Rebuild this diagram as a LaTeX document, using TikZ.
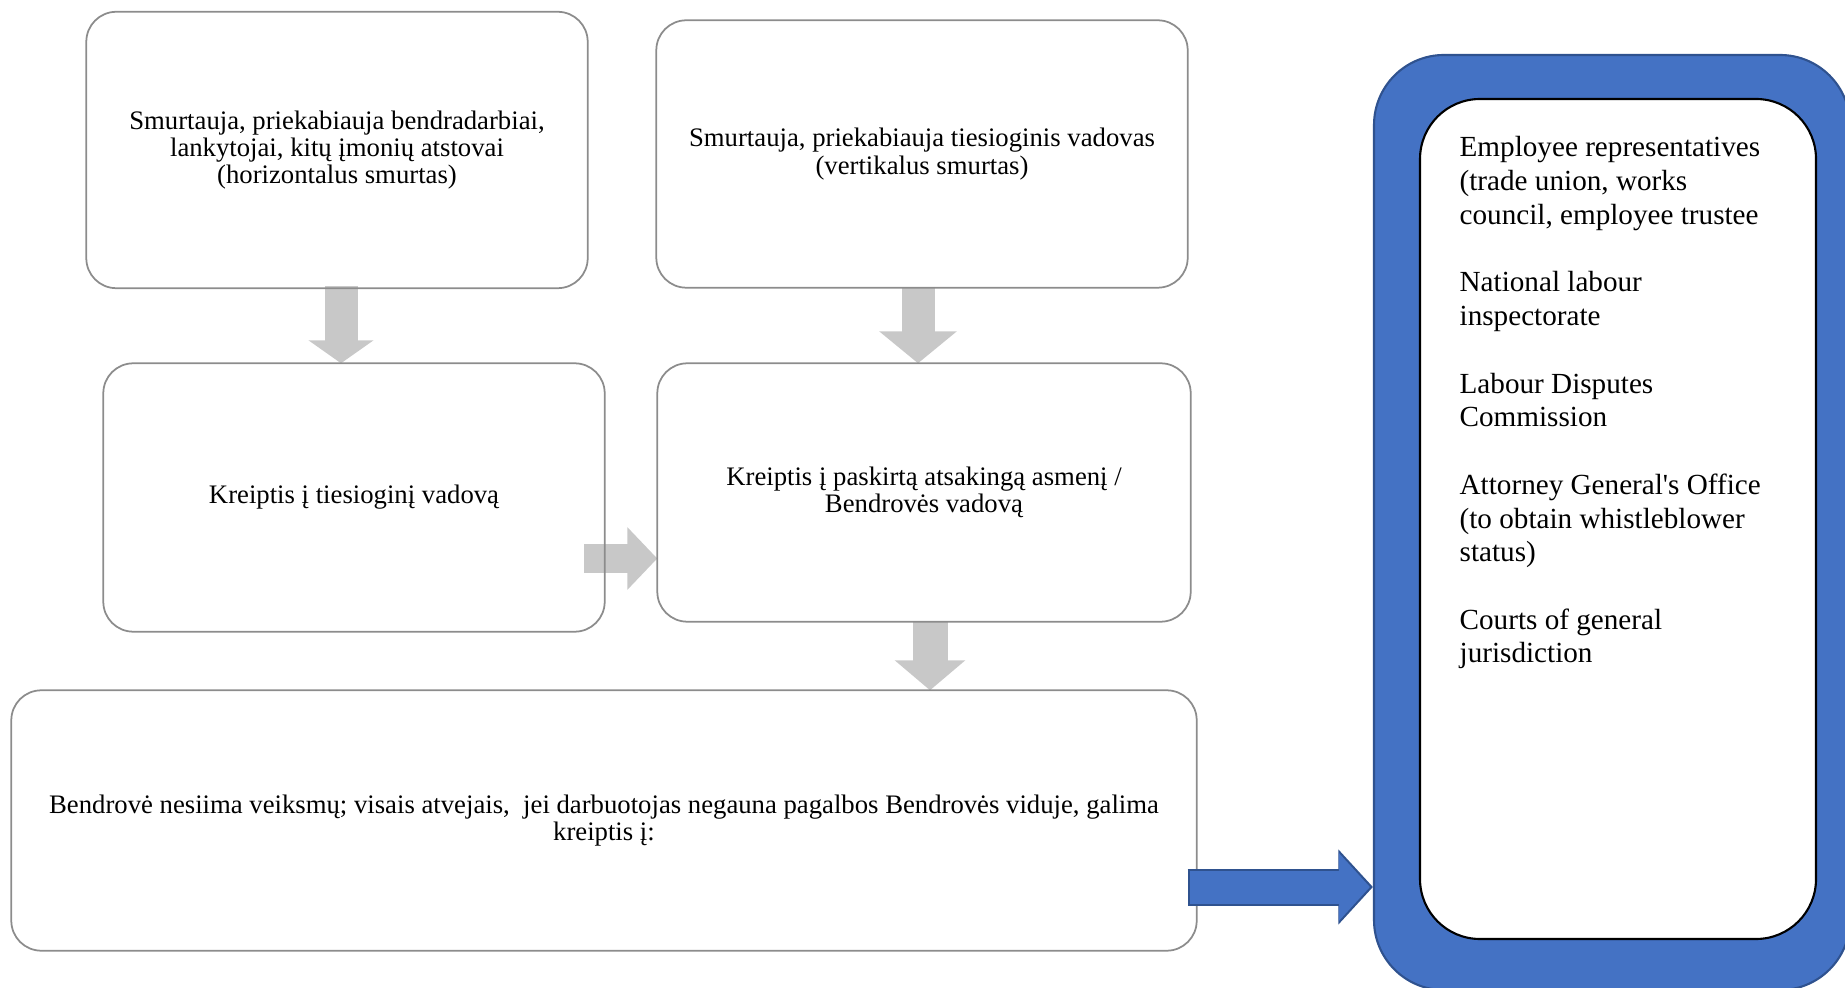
\documentclass[tikz,border=0pt]{standalone}
\usepackage{fontspec}
\setmainfont{Liberation Serif}
\usetikzlibrary{arrows.meta}
\definecolor{flowgray}{RGB}{200,200,200}
\definecolor{boxgray}{RGB}{140,140,140}
\definecolor{frameblue}{RGB}{68,114,196}
\definecolor{frameedge}{RGB}{47,82,143}

\begin{document}
\begin{tikzpicture}[x=1cm,y=1cm,
  stage/.style={rectangle,align=center,inner sep=4pt,font=\fontsize{7.6}{7.8}\selectfont},
  stageedge/.style={draw=boxgray,line width=.5pt,rounded corners=.3cm},
  flow/.style={draw=flowgray,line width=#1}]
\useasboundingbox (0,0) rectangle (18.45,-9.88);
\clip (0,0) rectangle (18.45,-9.88);
\coordinate (a0) at (3.41,-2.86);
\coordinate (b0) at (9.18,-2.87);
\coordinate (c0) at (9.30,-6.21);
\coordinate (d0) at (5.84,-5.585);
\node[stage,minimum width=5cm,minimum height=2.75cm] (h) at (3.37,-1.50) {Smurtauja, priekabiauja bendradarbiai,\\lankytojai, kitų įmonių atstovai\\(horizontalus smurtas)};
\node[stage,minimum width=5.3cm,minimum height=2.66cm] (v) at (9.22,-1.54) {Smurtauja, priekabiauja tiesioginis vadovas\\(vertikalus smurtas)};
\node[stage,minimum width=5cm,minimum height=2.67cm] (tv) at (3.54,-4.975) {Kreiptis į tiesioginį vadovą};
\node[stage,minimum width=5.32cm,minimum height=2.57cm] (ra) at (9.24,-4.925) {Kreiptis į paskirtą atsakingą asmenį /\\Bendrovės vadovą};
\node[stage,minimum width=11.84cm,minimum height=2.59cm] (bn) at (6.04,-8.205) {Bendrovė nesiima veiksmų; visais atvejais,~ jei darbuotojas negauna pagalbos Bendrovės viduje, galima\\kreiptis į:};
% gray flow arrows, the borders go over them
\draw[flow=.33cm,-{Triangle[width=.64cm,length=.23cm]}] (a0) -- (a0 |- tv.north);
\draw[flow=.33cm,-{Triangle[width=.76cm,length=.32cm]}] (b0) -- (b0 |- ra.north);
\draw[flow=.35cm,-{Triangle[width=.69cm,length=.30cm]}] (c0) -- (c0 |- bn.north);
\draw[flow=.29cm,-{Triangle[width=.61cm,length=.30cm]}] (d0) -- (d0 -| ra.west);
\foreach \b in {h,v,tv,ra,bn}
  \draw[stageedge] (\b.south west) rectangle (\b.north east);
% blue frame with the outside contacts
\node[draw=frameedge,fill=frameblue,line width=.6pt,rounded corners=.7cm,minimum width=4.76cm,minimum height=9.35cm,inner sep=0] (fr) at (16.12,-5.225) {};
\node[draw=black,fill=white,line width=.6pt,rounded corners=.6cm,minimum width=3.96cm,minimum height=8.40cm,inner sep=0] (frin) at (16.18,-5.19) {};
\node[anchor=north west,inner sep=0,align=left,font=\fontsize{8.3}{9.6}\selectfont] (lst) at ([shift={(.40,-.38)}]frin.north west)
  {Employee representatives\\(trade union, works\\council, employee trustee\\[9.6pt]National labour\\inspectorate\\[9.6pt]Labour Disputes\\Commission\\[9.6pt]Attorney General\textquotesingle s Office\\(to obtain whistleblower\\status)\\[9.6pt]Courts of general\\jurisdiction};
\coordinate (e0) at ([shift={(-.09,-.665)}]bn.east);
\draw[frameedge,line width=.37cm,-{Triangle[width=.73cm,length=.345cm]}] (e0) -- (e0 -| fr.west);
\draw[frameblue,line width=.33cm,-{Triangle[width=.66cm,length=.31cm]}] ([xshift=.02cm]e0) -- ([xshift=-.03cm]e0 -| fr.west);
\end{tikzpicture}
\end{document}
